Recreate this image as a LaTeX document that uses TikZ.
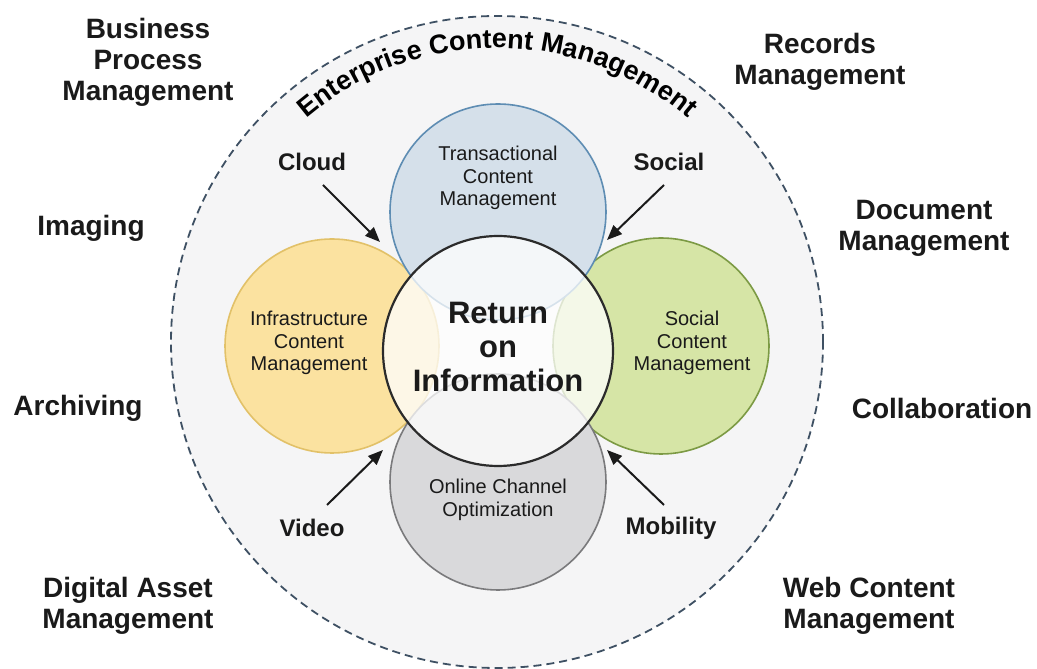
\documentclass[tikz,border=0pt]{standalone}
\usepackage{fontspec}
\setmainfont{Liberation Sans}
\usetikzlibrary{arrows.meta,decorations.text}
\definecolor{bgc}{HTML}{F5F5F6}
\definecolor{ringc}{HTML}{3E5063}
\definecolor{lblc}{HTML}{1A1A1A}
\definecolor{topfill}{HTML}{D5E0EA}
\definecolor{topdraw}{HTML}{5E8DB3}
\definecolor{leftfill}{HTML}{FBE2A0}
\definecolor{leftdraw}{HTML}{E2C168}
\definecolor{rightfill}{HTML}{D6E5A6}
\definecolor{rightdraw}{HTML}{7C9A44}
\definecolor{botfill}{HTML}{D9D9DB}
\definecolor{botdraw}{HTML}{7A7A7C}
\definecolor{centerc}{HTML}{2B2B2B}
\newcommand\ecmfont{\fontsize{27}{30}\selectfont\bfseries}
\begin{document}
\begin{tikzpicture}[x=1pt,y=1pt,
  outerlbl/.style={font=\fontsize{28}{31}\selectfont\bfseries, text=lblc, align=center, inner sep=0},
  innerlbl/.style={font=\fontsize{20}{22.5}\selectfont, text=lblc, align=center, inner sep=0},
  arrlbl/.style={font=\fontsize{24}{26}\selectfont\bfseries, text=lblc, inner sep=0},
  ring/.style={circle, inner sep=0, outer sep=0, line width=1.6pt},
  arr/.style={line width=2pt, draw=lblc, -{Triangle[length=15pt,width=12pt]}}]
\useasboundingbox (0,0) rectangle (1037,669);
\fill[white] (0,0) rectangle (1037,669);
% outer ECM ring
\node[ring, minimum size=652pt, fill=bgc, draw=ringc, line width=1.8pt, dash pattern=on 8pt off 5pt] (ecm) at (497,327) {};
% four content circles
\node[ring, minimum size=214pt, fill=leftfill, draw=leftdraw] (icm) at (332,323) {};
\node[ring, minimum size=216pt, fill=rightfill, draw=rightdraw] (scm) at (661,323) {};
\node[ring, minimum size=216pt, fill=botfill, draw=botdraw] (oco) at (498,187) {};
\node[ring, minimum size=216pt, fill=topfill, draw=topdraw] (tcm) at (498,457) {};
% centre circle
\node[ring, minimum size=230pt, fill=white, fill opacity=0.75, draw=centerc, draw opacity=1, line width=2.2pt] (roi) at (498,318) {};
% arc title
\path[decorate, decoration={text along path, text align=center,
  text={|\ecmfont|Enterprise Content Management}}]
  (497,327) ++(132:294pt) arc[start angle=132, end angle=48, radius=294pt];
% texts in circles
\node[innerlbl] (tcmt) at (498,491) {Transactional\\Content\\Management};
\node[innerlbl] (icmt) at (309,326) {Infrastructure\\Content\\Management};
\node[innerlbl] (scmt) at (692,326) {Social\\Content\\Management};
\node[innerlbl] (ocot) at (498,169) {Online Channel\\Optimization};
\node[font=\fontsize{31}{34}\selectfont\bfseries, text=lblc, align=center, inner sep=0] (roit) at (498,322) {Return\\on\\Information};
% outer labels
\node[outerlbl] (bpm) at (148,607) {Business\\Process\\Management};
\node[outerlbl] (rm) at (820,607) {Records\\Management};
\node[outerlbl] (img) at (91,441) {Imaging};
\node[outerlbl] (dm) at (924,441) {Document\\Management};
\node[outerlbl] (arch) at (78,261) {Archiving};
\node[outerlbl] (coll) at (942,261) {Collaboration};
\node[outerlbl] (dam) at (128,63) {Digital Asset\\Management};
\node[outerlbl] (wcm) at (869,63) {Web Content\\Management};
% arrow labels
\node[arrlbl] (cloud) at (312,507) {Cloud};
\node[arrlbl] (social) at (669,507) {Social};
\node[arrlbl] (video) at (312,141) {Video};
\node[arrlbl] (mobility) at (671,141) {Mobility};
% arrow ends
\coordinate (cloudtail) at (323,484);
\coordinate (cloudtip) at (380,427);
\coordinate (socialtail) at (664,484);
\coordinate (socialtip) at (607,429);
\coordinate (videotail) at (327,164);
\coordinate (videotip) at (383,219);
\coordinate (mobilitytail) at (664,164);
\coordinate (mobilitytip) at (607,219);
\draw[arr] (cloudtail) -- (cloudtip);
\draw[arr] (socialtail) -- (socialtip);
\draw[arr] (videotail) -- (videotip);
\draw[arr] (mobilitytail) -- (mobilitytip);
\end{tikzpicture}
\end{document}
